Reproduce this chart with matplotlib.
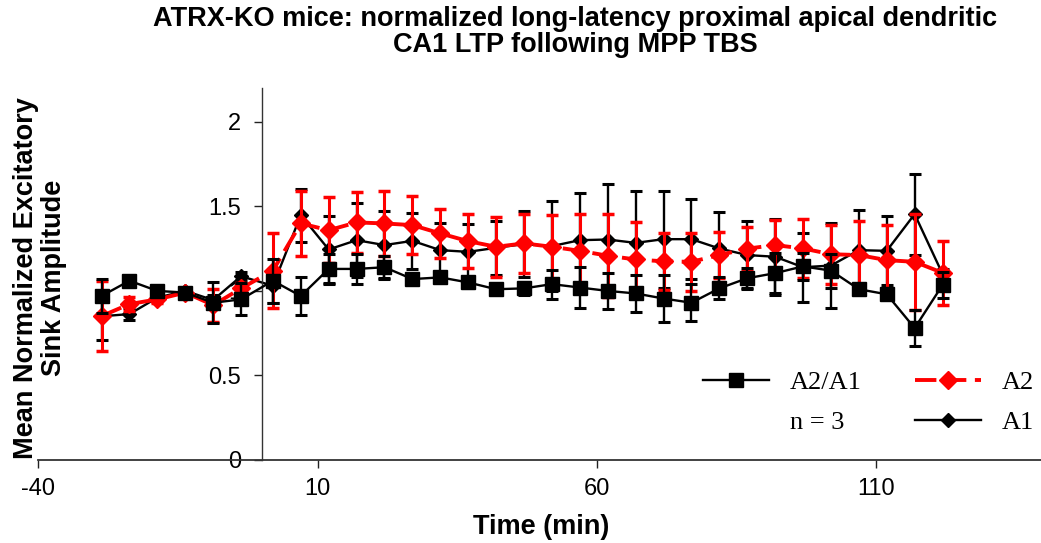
import matplotlib
matplotlib.use("Agg")
import matplotlib.pyplot as plt
from matplotlib.lines import Line2D

# Time points (min); TBS delivered at t = 0
time_min = [-28.7, -23.7, -18.7, -13.7, -8.7, -3.7,
            2, 7, 12, 17, 22, 27, 32, 37, 42, 47, 52, 57, 62, 67,
            72, 77, 82, 87, 92, 97, 102, 107, 112, 117, 122]

# A2/A1 ratio
ratio = [0.97, 1.06, 1.00, 0.99, 0.93, 0.95,
         1.06, 0.97, 1.13, 1.13, 1.14, 1.07, 1.08, 1.05, 1.01, 1.015,
         1.04, 1.02, 1.00, 0.985, 0.955, 0.93, 1.015, 1.075, 1.105,
         1.145, 1.12, 1.01, 0.98, 0.78, 1.035]
ratio_err = [0.10, 0.03, 0.03, 0.02, 0.12, 0.095,
             0.13, 0.11, 0.088, 0.09, 0.065, 0.03, 0.03, 0.03, 0.03, 0.04,
             0.085, 0.12, 0.105, 0.11, 0.14, 0.11, 0.065, 0.06, 0.12,
             0.08, 0.10, 0.03, 0.03, 0.105, 0.075]

# A2 response
a2 = [0.851, 0.922, 0.95, 0.99, 0.916, 1.015,
      1.12, 1.399, 1.359, 1.405, 1.399, 1.389, 1.34, 1.294, 1.261, 1.281,
      1.261, 1.237, 1.208, 1.186, 1.175, 1.172, 1.212, 1.25, 1.271,
      1.251, 1.217, 1.212, 1.182, 1.172, 1.107]
a2_err = [0.205, 0.043, 0.02, 0.02, 0.098, 0.03,
          0.22, 0.193, 0.194, 0.18, 0.19, 0.173, 0.147, 0.16, 0.176, 0.176,
          0.19, 0.215, 0.244, 0.222, 0.17, 0.17, 0.137, 0.13, 0.148,
          0.175, 0.175, 0.2, 0.207, 0.285, 0.19]

# A1 response
a1 = [0.85, 0.863, 0.96, 1.0, 0.946, 1.087,
      1.03, 1.448, 1.245, 1.30, 1.271, 1.296, 1.241, 1.231, 1.255, 1.277,
      1.265, 1.30, 1.304, 1.284, 1.306, 1.306, 1.251, 1.212, 1.202,
      1.14, 1.15, 1.241, 1.237, 1.454, 1.10]
a1_err = [0.14, 0.036, 0.02, 0.02, 0.03, 0.025,
          0.10, 0.157, 0.2, 0.217, 0.2, 0.166, 0.158, 0.162, 0.158, 0.197,
          0.268, 0.28, 0.327, 0.308, 0.286, 0.237, 0.213, 0.202, 0.226,
          0.205, 0.254, 0.237, 0.205, 0.24, 0.03]

x_ticks = [-40, 10, 60, 110]
y_ticks = [0, 0.5, 1, 1.5, 2]
y_ticklabels = ["0", "0.5", "1", "1.5", "2"]

sans = "Liberation Sans"
serif = "Liberation Serif"

fig = plt.figure(figsize=(10.41, 5.43), dpi=100)
ax = fig.add_axes([38.5 / 1041, 1 - 460 / 543, 1004.5 / 1041, 372 / 543])

ax.set_xlim(-40, 140)
ax.set_ylim(0, 2.2)

a1_c = ax.errorbar(time_min, a1, yerr=a1_err, color="black", marker="D",
                   ms=7, mec="black", lw=1.7, elinewidth=1.7,
                   capsize=4, capthick=2.2, zorder=2)
a2_c = ax.errorbar(time_min, a2, yerr=a2_err, color="red", marker="D",
                   ms=9, mec="red", lw=2.8, ls=(0, (5.5, 2.2)),
                   elinewidth=2.2, capsize=4, capthick=2.5, zorder=3)
r_c = ax.errorbar(time_min, ratio, yerr=ratio_err, color="black", marker="s",
                  ms=10, mec="black", lw=1.7, elinewidth=1.7,
                  capsize=4, capthick=2.2, zorder=4)

# Axes: y axis crosses at t = 0
for side in ("top", "right"):
    ax.spines[side].set_visible(False)
ax.spines["left"].set_position(("data", 0))
ax.spines["left"].set_color("#333333")
ax.spines["left"].set_linewidth(1.0)
ax.spines["bottom"].set_color("#333333")
ax.spines["bottom"].set_linewidth(1.3)
ax.xaxis.set_zorder(1.5)
ax.yaxis.set_zorder(1.5)

ax.set_xticks(x_ticks)
ax.set_xticklabels([str(v) for v in x_ticks])
ax.set_yticks(y_ticks)
ax.set_yticklabels(y_ticklabels)
ax.tick_params(axis="x", direction="out", length=6, width=1, pad=7,
               labelsize=17, colors="#222222", labelcolor="black")
ax.tick_params(axis="y", direction="out", length=6, width=1, pad=9,
               labelsize=17, colors="#222222", labelcolor="black")
for lab in ax.get_xticklabels() + ax.get_yticklabels():
    lab.set_fontfamily(sans)

ax.set_xlabel("Time (min)", fontsize=19.5, fontweight="bold",
              fontfamily=sans, labelpad=10)

fig.text(40 / 1041, 1 - 278 / 543, "Mean Normalized Excitatory\nSink Amplitude",
         rotation=90, ha="center", va="center", multialignment="center",
         fontsize=19.5, fontweight="bold", fontfamily=sans, linespacing=1.12)

fig.text(575 / 1041, 1 - 32 / 543,
         "ATRX-KO mice: normalized long-latency proximal apical dendritic\n"
         "CA1 LTP following MPP TBS",
         ha="center", va="center", multialignment="center",
         fontsize=19.5, fontweight="bold", fontfamily=sans, linespacing=1.05)

blank = Line2D([], [], ls="none", marker="none")
leg = ax.legend([r_c[0], blank, a2_c[0], a1_c[0]],
                ["A2/A1", "n = 3", "A2", "A1"],
                ncol=2, frameon=False, loc="upper left",
                bbox_to_anchor=((703 - 38.5) / 1004.5, (460 - 371) / 372),
                borderaxespad=0, borderpad=0, handlelength=2.5,
                handletextpad=0.8, columnspacing=2.0, labelspacing=0.6,
                prop={"family": serif, "size": 19})

fig.savefig("out.png", dpi=100)
